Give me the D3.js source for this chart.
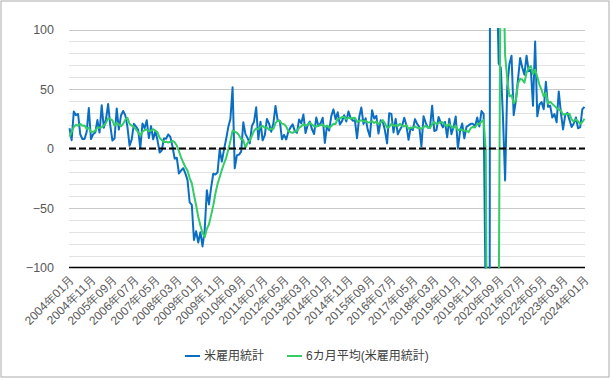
<!DOCTYPE html>
<html><head><meta charset="utf-8">
<script src="https://cdn.jsdelivr.net/npm/d3@7"></script>
<style>
body{margin:0;background:#fff}
svg{display:block;font-family:"Liberation Sans",Arial,"Noto Sans CJK JP",sans-serif}
</style></head><body>
<svg id="c" width="615" height="380"></svg>
<script>
const tickLabels = ["2004年01月","2004年11月","2005年09月","2006年07月","2007年05月","2008年03月","2009年01月","2009年11月","2010年09月","2011年07月","2012年05月","2013年03月","2014年01月","2014年11月","2015年09月","2016年07月","2017年05月","2018年03月","2019年01月","2019年11月","2020年09月","2021年07月","2022年05月","2023年03月","2024年01月"];
const yTicks = [-100, -50, 0, 50, 100];
const gridValues = [-90,-80,-70,-60,-50,-40,-30,-20,-10,0,10,20,30,40,50,60,70,80,90,100];
const seriesNames = ["米雇用統計", "6カ月平均(米雇用統計)"];

// monthly change, 2004-01 .. 2024-01
const payrolls = [
 17, 7, 31, 28, 29, 12, 8, 8, 14, 34, 8, 12,
 13.4, 23.9, 13.4, 36.3, 17.5, 24.5, 37.3, 19.5, 6.7, 8.4, 33.7, 15.9,
 27.7, 31.5, 28.0, 18.2, 2.3, 7.7, 20.7, 18.4, 15.7, 0.2, 21.0, 17.1,
 23.8, 8.8, 18.8, 7.8, 14.4, 7.1, -3.3, -1.6, 8.5, 8.2, 11.8, 9.7,
 1.7, -8.4, -7.8, -21.0, -18.5, -16.5, -20.9, -26.6, -45.2, -47.3, -76.9, -69.5,
 -79.1, -70.3, -82.3, -68.6, -35.1, -47.0, -32.9, -21.2, -21.9, -20.0, -0.7, -11,
 -1, 8, 18, 25, 51.5, -16.7, -5.8, -5.1, -2.7, 22.0, 12.1, 8.7,
 4.3, 18.9, 22.5, 34.6, 7.7, 22.5, 6.9, 11.0, 24.8, 20.9, 14.1, 20.9,
 35.8, 23.7, 23.3, 7.8, 11.5, 7.6, 14.3, 17.7, 20.3, 14.6, 13.2, 24.4,
 21.1, 28.6, 13.0, 19.7, 22.6, 16.2, 12.2, 26.1, 19.0, 21.2, 25.8, 4.7,
 19.0, 15.1, 27.2, 32.9, 24.6, 30.4, 20.2, 23.0, 28.0, 22.7, 31.2, 25.5,
 23.4, 23.8, 8.6, 26.2, 34.4, 20.6, 25.4, 15.7, 10.0, 32.1, 25.2, 27.4,
 12.6, 23.7, 22.5, 15.3, 4.3, 29.7, 29.1, 13.5, 24.9, 11.9, 15.8, 19.0,
 25.9, 19.5, 7.3, 17.5, 15.5, 24.7, 20.7, 18.1, 1.8, 27.1, 21.6, 17.5,
 17.6, 36, 14.7, 15.4, 26.5, 21.8, 17.7, 22.3, 9.4, 25.1, 12.0, 18.2,
 26.9, 0.1, 14.7, 21.0, 8.5, 18.2, 19.4, 20.7, 20.8, 18.5, 26.1, 18.4,
 31.5, 28.9, -137.3, -2047.7, 283.3, 484.6, 172.6, 158.3, 71.6, 68.0, 26.4, -26.8,
 52, 71, 78, 28, 40, 58, 76, 68, 62, 78, 65, 66,
 36, 90, 27, 37, 39, 33, 56, 35, 36, 26, 29, 22,
 48, 30, 16, 28, 30, 24, 18, 21, 26, 17, 18, 33,
 35
];

// 6-month average
const avg6 = [
 10, 14, 18, 20, 19, 20.7, 19.2, 19.3, 16.5, 17.5, 14.0, 14.0,
 14.9, 17.6, 17.5, 17.8, 19.4, 21.5, 25.5, 24.8, 23.6, 19.0, 21.7, 20.3,
 18.7, 20.7, 24.2, 25.8, 20.6, 19.2, 18.1, 15.9, 13.8, 10.8, 14.0, 15.5,
 16.0, 14.4, 15.0, 16.2, 15.1, 13.5, 8.9, 7.2, 5.5, 5.6, 5.1, 5.6,
 6.4, 5.3, 2.5, -2.3, -7.4, -11.8, -15.5, -18.6, -24.8, -29.2, -38.9, -47.7,
 -57.4, -64.7, -70.9, -74.5, -67.5, -63.7, -56.0, -47.9, -37.8, -29.7, -24.0, -18.0,
 -12.6, -7.8, -1.1, 6.4, 15.1, 14.1, 13.3, 11.2, 7.7, 7.2, 0.6, 4.9,
 6.6, 10.6, 14.8, 16.9, 16.1, 18.4, 18.9, 17.5, 17.9, 15.6, 16.7, 16.4,
 21.3, 23.4, 23.1, 20.9, 20.5, 18.3, 14.7, 13.7, 13.2, 14.3, 14.6, 17.4,
 18.6, 20.4, 19.2, 20.0, 21.6, 20.2, 18.7, 18.3, 19.3, 19.6, 20.1, 18.2,
 19.3, 17.5, 18.8, 20.8, 20.6, 24.9, 25.1, 26.4, 26.5, 24.8, 25.9, 25.1,
 25.6, 25.8, 22.5, 23.1, 23.7, 22.8, 23.2, 21.8, 22.1, 23.0, 21.5, 22.6,
 20.5, 21.8, 23.9, 21.1, 17.6, 18.0, 20.8, 19.1, 19.5, 18.9, 20.8, 19.0,
 18.5, 19.5, 16.6, 17.5, 17.5, 18.4, 17.5, 17.3, 16.4, 18.0, 19.0, 17.8,
 17.3, 20.3, 22.4, 20.5, 21.3, 22.0, 22.0, 19.7, 18.9, 20.5, 18.1, 17.5,
 19.0, 15.3, 16.2, 15.5, 14.9, 14.9, 13.7, 17.1, 18.1, 17.7, 20.6, 20.7,
 22.7, 24.0, -2.3, -346.7, -303.8, -226.1, -202.6, -181.0, -146.2, 206.4, 163.6, 78.4,
 58.3, 43.7, 44.8, 38.1, 40.4, 54.5, 58.5, 58.0, 55.3, 63.7, 67.8, 69.2,
 62.5, 66.2, 60.3, 53.5, 49.2, 43.7, 47.0, 37.8, 39.3, 37.5, 35.8, 34.0,
 32.7, 31.8, 28.5, 28.8, 29.0, 29.3, 24.3, 22.8, 24.5, 22.7, 20.7, 22.2,
 25.0
];

const months = payrolls.map((_, i) =>
  `${2004 + Math.floor(i / 12)}年${String(i % 12 + 1).padStart(2, "0")}月`);

const svg = d3.select("#c");
svg.append("rect").attr("x", 1).attr("y", 1).attr("width", 608).attr("height", 376)
  .attr("fill", "#fff").attr("stroke", "#ababab").attr("stroke-width", 1);

const pLeft = 69.5, pRight = 584.5, pTop = 29.5, pBottom = 267.5;
const x = d3.scalePoint().domain(months).range([pLeft, pRight]);
const y = d3.scaleLinear().domain([-100, 100]).range([pBottom, pTop]);

// gridlines
svg.append("g").selectAll("line").data(gridValues).join("line")
  .attr("x1", pLeft - 0.5).attr("x2", pRight + 0.5)
  .attr("y1", d => Math.round(y(d)) + 0.5).attr("y2", d => Math.round(y(d)) + 0.5)
  .attr("stroke", d => (d % 50 === 0 ? "#c9c9c9" : "#e3e3e3"))
  .attr("stroke-width", 1);

// y axis labels
const yAxis = d3.axisLeft(y).tickValues(yTicks).tickSize(0).tickPadding(0);
const yg = svg.append("g").attr("transform", "translate(54,0)").call(yAxis);
yg.select(".domain").remove();
yg.selectAll("text").attr("fill", "#595959").attr("font-size", 12.5)
  .attr("font-family", '"Liberation Sans",Arial,sans-serif');

// bottom axis line at -100
svg.append("line").attr("x1", pLeft - 0.5).attr("x2", pRight + 0.5)
  .attr("y1", y(-100)).attr("y2", y(-100)).attr("stroke", "#000").attr("stroke-width", 1.5);

// x axis labels
const xAxis = d3.axisBottom(x).tickValues(tickLabels).tickSize(0);
const xg = svg.append("g").attr("transform", `translate(0,${pBottom})`).call(xAxis);
xg.select(".domain").remove();
xg.selectAll(".tick text")
  .attr("fill", "#595959").attr("font-size", 12)
  .attr("text-anchor", "end")
  .attr("transform", "translate(2,10) rotate(-45)")
  .attr("x", 0).attr("y", 0).attr("dy", "0.35em");

// clip
svg.append("clipPath").attr("id", "clip").append("rect")
  .attr("x", pLeft - 2).attr("y", pTop - 1.5).attr("width", pRight - pLeft + 4).attr("height", pBottom - pTop + 2.5);

const line = d3.line().x((d, i) => x(months[i])).y(d => y(d));
const plot = svg.append("g").attr("clip-path", "url(#clip)");
plot.append("path").datum(payrolls).attr("d", line)
  .attr("fill", "none").attr("stroke", "#0a6fc2").attr("stroke-width", 2).attr("stroke-linejoin", "round");
plot.append("path").datum(avg6).attr("d", line)
  .attr("fill", "none").attr("stroke", "#33cc66").attr("stroke-width", 2).attr("stroke-linejoin", "round");

// zero dashed line
svg.append("line").attr("x1", pLeft - 0.5).attr("x2", pRight + 0.5)
  .attr("y1", y(0)).attr("y2", y(0)).attr("stroke", "#000").attr("stroke-width", 2)
  .attr("stroke-dasharray", "7,3");

// legend
const legend = svg.append("g").attr("font-size", 12);
const legendItems = [
  {name: seriesNames[0], color: "#0a6fc2", x0: 185},
  {name: seriesNames[1], color: "#33cc66", x0: 287}
];
legendItems.forEach(it => {
  legend.append("line").attr("x1", it.x0).attr("x2", it.x0 + 15).attr("y1", 356).attr("y2", 356)
    .attr("stroke", it.color).attr("stroke-width", 2);
  legend.append("text").attr("x", it.x0 + 19).attr("y", 356).attr("dy", "0.35em")
    .attr("fill", "#404040").text(it.name);
});
</script>
</body></html>
